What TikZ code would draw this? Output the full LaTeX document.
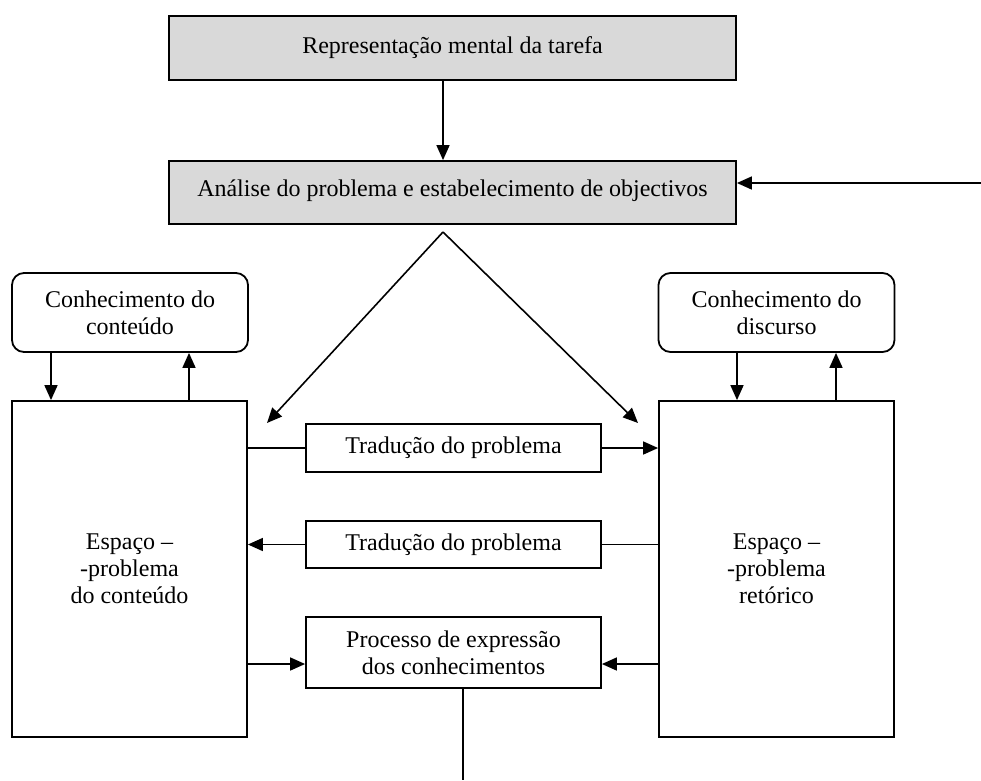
\documentclass[tikz,border=0pt]{standalone}
\usepackage{fontspec}
\setmainfont{Liberation Serif}
\usetikzlibrary{arrows.meta}

\begin{document}
\begin{tikzpicture}[x=1pt, y=-1pt, font=\fontsize{24}{27}\selectfont,
    >={Triangle[length=15pt, width=13pt]}, line width=1.6pt,
    grey/.style={draw, line width=1.8pt, fill=black!15, minimum width=567pt, inner sep=0pt},
    rbox/.style={draw, line width=1.8pt, rounded corners=12pt, align=center,
      minimum width=236pt, minimum height=79pt, inner sep=0pt},
    bigbox/.style={draw, line width=1.8pt, align=center,
      minimum width=235pt, minimum height=336pt, inner sep=0pt},
    midbox/.style={draw, line width=1.8pt, align=center, minimum width=295pt, inner sep=0pt}]
  \useasboundingbox (0,0) rectangle (981,780);

  % top of the chain
  \node[grey, minimum height=64pt] (rep) at (452.5,48) {Representação mental da tarefa};
  \node[grey, minimum height=63pt, text height=20pt, text depth=13pt] (ana) at (452.5,192.5)
    {Análise do problema e estabelecimento de objectivos};

  % the two problem spaces
  \node[rbox] (kc) at (130,312.5) {Conhecimento do\\conteúdo};
  \node[rbox] (kd) at (776.5,312.5) {Conhecimento do\\discurso};
  \node[bigbox] (ec) at (129.5,569) {Espaço –\\-problema\\do conteúdo};
  \node[bigbox] (er) at (776.5,569) {Espaço –\\-problema\\retórico};

  % between them
  \node[midbox, minimum height=48pt] (t1) at (453.5,448) {Tradução do problema};
  \node[midbox, minimum height=47pt] (t2) at (453.5,544.5) {Tradução do problema};
  \node[midbox, minimum height=71pt] (pe) at (453.5,652.5) {Processo de expressão\\dos conhecimentos};

  \coordinate (apex) at (443,232);
  \coordinate (tipc) at (267,423);
  \coordinate (tipr) at (638,423);
  \coordinate (fb) at (981,183);
  \coordinate (out) at (463,780);
  \coordinate (pin) at (0,664);

  \draw[->] (rep.south -| apex) -- (ana.north -| apex);
  \draw[->] (fb) -- (ana.east |- fb);
  \draw[->] (apex) -- (tipc);
  \draw[->] (apex) -- (tipr);

  \foreach \k/\e/\dn/\up in {kc/ec/51/189, kd/er/737/836} {
    \coordinate (dn) at (\dn,0);
    \coordinate (up) at (\up,0);
    \draw[->] (\k.south -| dn) -- (\e.north -| dn);
    \draw[->] (\e.north -| up) -- (\k.south -| up);
  }

  \draw (ec.east |- t1) -- (t1.west);
  \draw[->] (t1.east) -- (er.west |- t1);
  \draw (er.west |- t2) -- (t2.east);
  \draw[->] (t2.west) -- (ec.east |- t2);
  \draw[->] (ec.east |- pin) -- (pe.west |- pin);
  \draw[->] (er.west |- pin) -- (pe.east |- pin);
  \draw (pe.south -| out) -- (out);
\end{tikzpicture}
\end{document}
